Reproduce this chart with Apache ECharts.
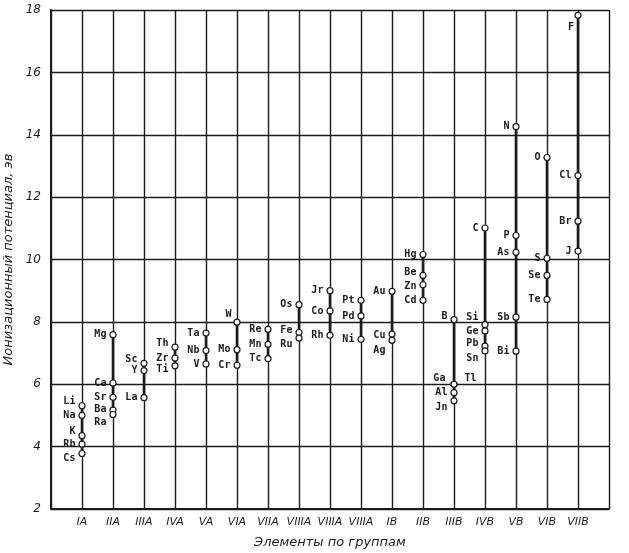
<!DOCTYPE html>
<html>
<head>
<meta charset="utf-8">
<script src="https://cdn.jsdelivr.net/npm/echarts@6/dist/echarts.min.js"></script>
<style>
  html, body { margin: 0; padding: 0; background: #fff; }
  #chart { width: 629px; height: 553px; }
</style>
</head>
<body>
<div id="chart"></div>
<script>
// группы (ось X)
const groupLabels = ['IA', 'IIA', 'IIIA', 'IVA', 'VA', 'VIA', 'VIIA', 'VIIIA', 'VIIIA', 'VIIIA',
  'IB', 'IIB', 'IIIB', 'IVB', 'VB', 'VIB', 'VIIB']
const yTicks = [2, 4, 6, 8, 10, 12, 14, 16, 18]

// элементы по группам
const elementNames = [
  ['Li', 'Na', 'K', 'Rb', 'Cs'],
  ['Mg', 'Ca', 'Sr', 'Ba', 'Ra'],
  ['Sc', 'Y', 'La'],
  ['Th', 'Zr', 'Ti'],
  ['Ta', 'Nb', 'V'],
  ['W', 'Mo', 'Cr'],
  ['Re', 'Mn', 'Tc'],
  ['Os', 'Fe', 'Ru'],
  ['Jr', 'Co', 'Rh'],
  ['Pt', 'Pd', 'Ni'],
  ['Au', 'Cu', 'Ag'],
  ['Hg', 'Be', 'Zn', 'Cd'],
  ['B', 'Ga', 'Tl', 'Al', 'Jn'],
  ['C', 'Si', 'Ge', 'Pb', 'Sn'],
  ['N', 'P', 'As', 'Sb', 'Bi'],
  ['O', 'S', 'Se', 'Te'],
  ['F', 'Cl', 'Br', 'J']
]
// ионизационный потенциал, эв
const potentials = [
  [5.31, 5.0, 4.35, 4.08, 3.78],
  [7.59, 6.04, 5.58, 5.17, 5.03],
  [6.67, 6.44, 5.57],
  [7.19, 6.84, 6.59],
  [7.64, 7.08, 6.65],
  [7.99, 7.11, 6.61],
  [7.76, 7.28, 6.82],
  [8.55, 7.66, 7.48],
  [9.0, 8.35, 7.57],
  [8.69, 8.19, 7.44],
  [8.98, 7.61, 7.41],
  [10.16, 9.49, 9.19, 8.69],
  [8.07, 6.0, 6.0, 5.73, 5.47],
  [11.01, 7.91, 7.71, 7.22, 7.07],
  [14.26, 10.77, 10.23, 8.15, 7.06],
  [13.27, 10.04, 9.49, 8.72],
  [17.83, 12.69, 11.23, 10.27]
]

// сдвиги подписей, чтобы не налезали друг на друга
const labelTweaks = {
  Li: { offset: [0, -4] },
  K: { offset: [0, -4] },
  Cs: { offset: [0, 5] },
  Ba: { offset: [0, -1] },
  Ra: { offset: [0, 8] },
  Sc: { offset: [0, -4] },
  Th: { offset: [0, -4] },
  Ti: { offset: [0, 4] },
  W: { offset: [1, -8] },
  Fe: { offset: [0, -2] },
  Ru: { offset: [0, 6] },
  Cu: { offset: [0, 1] },
  Ag: { offset: [0, 10] },
  Be: { offset: [0, -3] },
  Zn: { offset: [0, 2] },
  B: { offset: [0, -3] },
  Ga: { offset: [-2, -6] },
  Tl: { position: 'right', offset: [4, -6] },
  Jn: { offset: [0, 7] },
  Si: { offset: [0, -7] },
  Pb: { offset: [0, -3] },
  Sn: { offset: [0, 8] },
  F: { position: 'bottom', offset: [-7, 1] }
}

const ink = '#1c1c1c'
const mChart = echarts.init(document.getElementById('chart'))

const series = potentials.map((vals, i) => ({
  type: 'line',
  data: vals.map((v, j) => {
    const name = elementNames[i][j]
    return { name, value: [i + 1, v], label: labelTweaks[name] || {} }
  }),
  symbol: 'circle',
  symbolSize: 6,
  itemStyle: { color: '#fff', borderColor: ink, borderWidth: 1.2 },
  lineStyle: { color: ink, width: 2.6 },
  label: {
    show: true,
    position: 'left',
    distance: 3,
    formatter: '{b}',
    color: ink,
    fontFamily: 'DejaVu Sans Mono',
    fontWeight: 'bold',
    fontSize: 10
  },
  emphasis: { disabled: true },
  animation: false,
  z: 5
}))

mChart.setOption({
  backgroundColor: '#fff',
  animation: false,
  grid: { left: 51, right: 20, top: 10, bottom: 44, outerBoundsMode: 'none' },
  xAxis: {
    type: 'value',
    min: 0,
    max: 18,
    interval: 1,
    name: 'Элементы по группам',
    nameLocation: 'middle',
    nameGap: 27,
    nameTextStyle: { color: ink, fontStyle: 'italic', fontSize: 13, fontFamily: 'DejaVu Sans' },
    axisLine: { show: true, lineStyle: { color: ink, width: 2 } },
    axisTick: { show: false },
    axisLabel: {
      color: ink,
      fontStyle: 'italic',
      fontSize: 11,
      fontFamily: 'DejaVu Sans',
      margin: 8,
      formatter: (v) => groupLabels[v - 1] || ''
    },
    splitLine: { show: true, lineStyle: { color: ink, width: 1.4 } }
  },
  yAxis: {
    type: 'value',
    min: yTicks[0],
    max: yTicks[yTicks.length - 1],
    interval: 2,
    name: 'Ионизационный потенциал, эв',
    nameLocation: 'middle',
    nameGap: 33,
    nameTextStyle: { color: ink, fontStyle: 'italic', fontSize: 13, fontFamily: 'DejaVu Sans' },
    axisLine: { show: true, lineStyle: { color: ink, width: 2 } },
    axisTick: { show: false },
    axisLabel: { color: ink, fontStyle: 'italic', fontSize: 12, fontFamily: 'DejaVu Sans', margin: 10 },
    splitLine: { show: true, lineStyle: { color: ink, width: 1.4 } }
  },
  series
})
</script>
</body>
</html>
